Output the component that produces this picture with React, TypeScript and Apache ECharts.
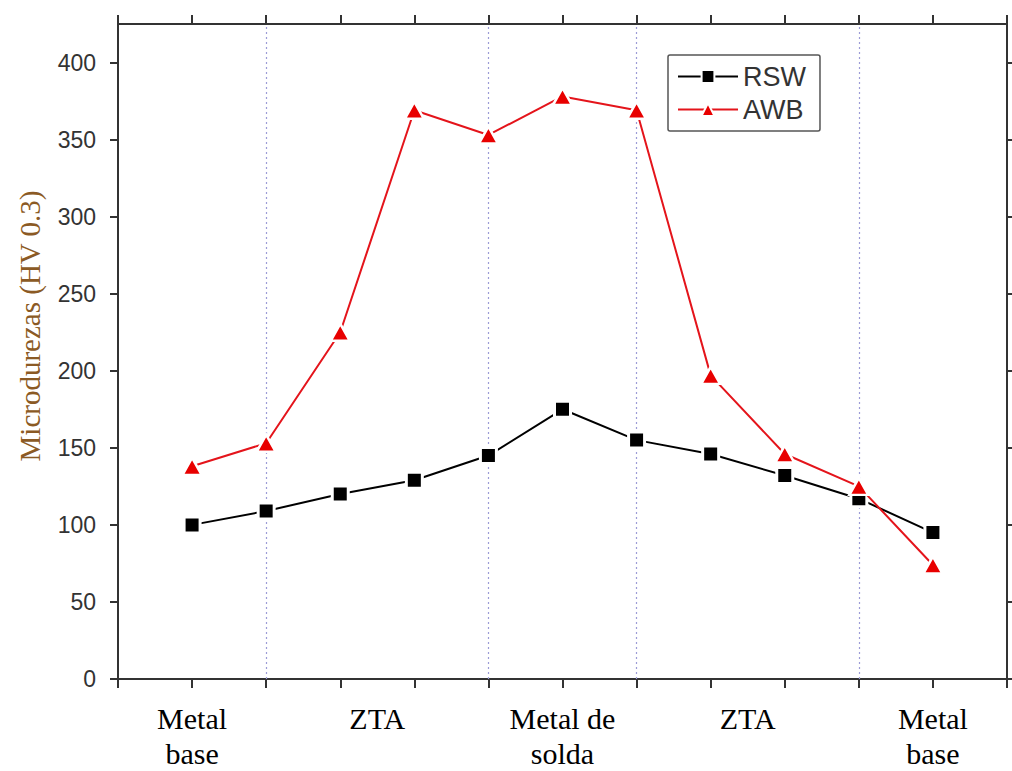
import React, { useEffect, useRef } from "react";
import * as echarts from "echarts";

const positions = [1, 2, 3, 4, 5, 6, 7, 8, 9, 10, 11];
const rswValues = [100, 109, 120, 129, 145, 175, 155, 146, 132, 117, 95];
const awbValues = [138, 153, 225, 369, 353, 378, 369, 197, 146, 125, 74];
const yTicks = [0, 50, 100, 150, 200, 250, 300, 350, 400];
const regionCenters = [1, 3.5, 6, 8.5, 11];
const regionLabels = ["Metal\nbase", "ZTA", "Metal de\nsolda", "ZTA", "Metal\nbase"];
const regionBoundaries = [2, 5, 7, 10];
const yTitle = "Microdurezas (HV 0.3)";

export default function App() {
  const ref = useRef<HTMLDivElement>(null);
  useEffect(() => {
    if (!ref.current) return;
    const chart = echarts.init(ref.current, null, { renderer: "svg" });
    const axisColor = "#333";
    const axisLine = { show: true, onZero: false, lineStyle: { color: axisColor, width: 2 } };
    const frameX = (pos: string) => ({
      type: "value",
      gridIndex: 0,
      position: pos,
      min: 0,
      max: 12,
      interval: 1,
      axisLine,
      axisTick: { show: true, inside: false, length: 9, lineStyle: { color: axisColor, width: 2 } },
      axisLabel: { show: false },
      splitLine: { show: false },
    });
    const frameY = (pos: string, labels: boolean) => ({
      type: "value",
      gridIndex: 0,
      position: pos,
      min: 0,
      max: 425,
      interval: 50,
      axisLine,
      axisTick: {
        show: true,
        inside: false,
        length: 8,
        customValues: yTicks,
        lineStyle: { color: axisColor, width: 2 },
      },
      axisLabel: {
        show: labels,
        customValues: yTicks,
        margin: 22,
        color: "#333",
        fontFamily: "Liberation Sans",
        fontSize: 23,
      },
      splitLine: { show: false },
    });
    const symbolBorder = { borderColor: "#fff", borderWidth: 3 };
    chart.setOption({
      animation: false,
      backgroundColor: "#fff",
      grid: { left: 118, right: 5, top: 24, bottom: 91, containLabel: false },
      xAxis: [
        frameX("bottom"),
        frameX("top"),
        {
          type: "value",
          gridIndex: 0,
          position: "bottom",
          min: 0,
          max: 12,
          interval: 0.5,
          axisLine: { show: false, onZero: false },
          axisTick: { show: false },
          splitLine: { show: false },
          axisLabel: {
            show: true,
            margin: 22,
            showMinLabel: true,
            showMaxLabel: true,
            hideOverlap: false,
            color: "#000",
            fontFamily: "Liberation Serif",
            fontSize: 30,
            lineHeight: 35,
            verticalAlign: "top",
            formatter: (v: number) => {
              const i = regionCenters.indexOf(v);
              return i >= 0 ? regionLabels[i] : "";
            },
          },
        },
      ],
      yAxis: [frameY("left", true), frameY("right", false)],
      legend: {
        show: true,
        orient: "vertical",
        left: 668,
        top: 55,
        padding: [8, 14, 8, 9],
        borderColor: "#555",
        borderWidth: 1.5,
        borderRadius: 2,
        backgroundColor: "#fff",
        itemWidth: 60,
        itemHeight: 16,
        itemGap: 6,
        textStyle: {
          color: "#333",
          fontFamily: "Liberation Sans",
          fontSize: 27,
          lineHeight: 26,
        },
        data: ["RSW", "AWB"],
      },
      graphic: [
        {
          type: "text",
          x: 30,
          y: 326,
          rotation: Math.PI / 2,
          style: {
            text: yTitle,
            fill: "#8b5a24",
            font: "29px 'Liberation Serif'",
            align: "center",
            verticalAlign: "middle",
          },
        },
      ],
      series: [
        {
          name: "RSW",
          type: "line",
          xAxisIndex: 0,
          yAxisIndex: 0,
          data: positions.map((p, i) => [p, rswValues[i]]),
          symbol: "rect",
          symbolSize: 16,
          lineStyle: { color: "#000", width: 2 },
          itemStyle: { color: "#000", ...symbolBorder },
          z: 3,
          markLine: {
            silent: true,
            symbol: "none",
            label: { show: false },
            lineStyle: { color: "#9c9cd6", type: [2, 3], width: 1.2 },
            data: regionBoundaries.map((b) => ({ xAxis: b })),
            z: 1,
          },
        },
        {
          name: "AWB",
          type: "line",
          xAxisIndex: 0,
          yAxisIndex: 0,
          data: positions.map((p, i) => [p, awbValues[i]]),
          symbol: "triangle",
          symbolSize: [19, 17],
          lineStyle: { color: "#e4141b", width: 2 },
          itemStyle: { color: "#e80000", borderColor: "#fff", borderWidth: 2.5 },
          z: 4,
        },
      ],
    });
    return () => chart.dispose();
  }, []);
  return (
    <div
      ref={ref}
      style={{ position: "absolute", left: 0, top: 0, width: 1012, height: 771 }}
    />
  );
}
